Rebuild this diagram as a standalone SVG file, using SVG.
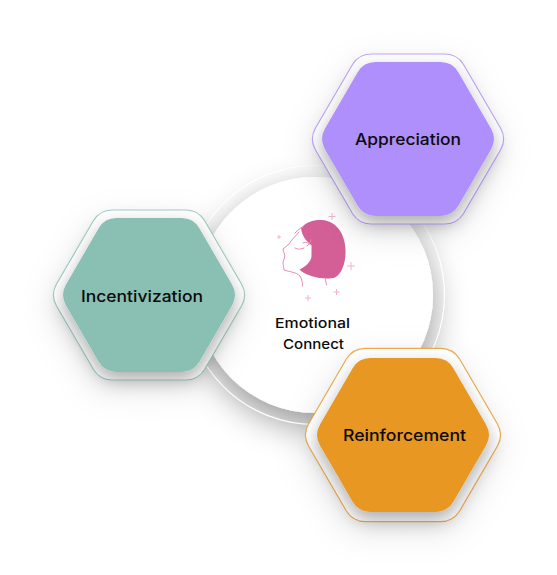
<svg xmlns="http://www.w3.org/2000/svg" width="557" height="575" viewBox="0 0 557 575">
<style>
text{font-family:"Inter","Liberation Sans",sans-serif;font-weight:500;fill:#0b0b0b;text-anchor:middle}
.lbl{font-size:16px}
.cap{font-size:13.5px}
.ring{fill:#fff;stroke-width:1.200;stroke-opacity:.8;filter:url(#softShadow)}
.core{filter:url(#coreShadow)}
.face{fill:none;stroke:#e58bb5;stroke-width:1;stroke-linecap:round}
.spark{fill:none;stroke:#f0b3cf;stroke-width:1}
</style>
<defs>
<path id="hexOuter" d="M-37-85H37A22 22 0 0 1 55.500-74.500L92.500-11A22 22 0 0 1 92.500 11L55.500 74.500A22 22 0 0 1 37 85H-37A22 22 0 0 1-55.500 74.500L-92.500 11A22 22 0 0 1-92.500-11L-55.500-74.500A22 22 0 0 1-37-85Z"/>
<path id="hexInner" d="M-32.500-77H32.500A20.800 20.800 0 0 1 50.500-66.600L83-10.400A20.800 20.800 0 0 1 83 10.400L50.500 66.600A20.800 20.800 0 0 1 32.500 77H-32.500A20.800 20.800 0 0 1-50.500 66.600L-83 10.400A20.800 20.800 0 0 1-83-10.400L-50.500-66.600A20.800 20.800 0 0 1-32.500-77Z"/>
<filter id="softShadow" x="-40%" y="-40%" width="180%" height="180%">
<feDropShadow dx="-2" dy="10" stdDeviation="16" flood-color="#000" flood-opacity=".1"/>
</filter>
<filter id="coreShadow" x="-30%" y="-30%" width="160%" height="160%">
<feDropShadow dx="0" dy="8" stdDeviation="9" flood-color="#000" flood-opacity=".32"/>
</filter>
<filter id="circleShadow" x="-40%" y="-40%" width="180%" height="180%">
<feDropShadow dx="0" dy="13" stdDeviation="17" flood-color="#000" flood-opacity=".4"/>
</filter>
</defs>
<g id="center-circle">
<circle cx="315" cy="295" r="118" fill="#fff" filter="url(#circleShadow)"/>
<circle cx="315" cy="295" r="129.500" fill="none" stroke="#fff" stroke-width="1.200"/>
<g id="face-icon">
<path d="M301 228C306 222 314 219.500 322 220C336 221 345 233 345.500 250C346 262 342 274 335 277.500C327 280 308 278 299.500 269.500C305 267 311 262 311.500 256.500L311.500 245C306 241 302 236 301 228Z" fill="#d35f96"/>
<path class="face" d="M299 232C295 237 291 240 289 244L283 249C283 252 285.500 254 284.500 258L283 262C283 266 284 268 284 270C290 272 296 272 300 276C302 279 302.500 283 302.500 286"/>
<path class="face" d="M295 233C298 230 300 228 303 227"/>
<path class="face" d="M295 248C298 250 301 249 304 248"/>
<path class="face" d="M303 243C307 241 309 244 311 245M307 246C310 244 311 241 311 240"/>
<path class="face" d="M325 278C326 281 326 283 326.500 285"/>
<path class="spark" d="M332 213V220M328.500 216.500H335.500M351 262V270M347 266H355M336.500 289V295M333.500 292H339.500M308 295V301M305 298H311"/>
<path class="spark" d="M277 237H281M279 235V239"/>
</g>
<text class="cap" x="312.500" y="328" textLength="75" lengthAdjust="spacingAndGlyphs">Emotional</text>
<text class="cap" x="313.500" y="349" textLength="61" lengthAdjust="spacingAndGlyphs">Connect</text>
</g>
<g id="incentivization" transform="translate(149 295)">
<use href="#hexOuter" class="ring" stroke="#8abfb3"/>
<use href="#hexInner" class="core" fill="#8abfb3"/>
<text class="lbl" x="-7" y="6.500" textLength="122" lengthAdjust="spacingAndGlyphs">Incentivization</text>
</g>
<g id="appreciation" transform="translate(408 139)">
<use href="#hexOuter" class="ring" stroke="#af8ffb"/>
<use href="#hexInner" class="core" fill="#af8ffb"/>
<text class="lbl" x="0" y="6" textLength="106" lengthAdjust="spacingAndGlyphs">Appreciation</text>
</g>
<g id="reinforcement" transform="translate(403 435)">
<use href="#hexOuter" class="ring" stroke="#e79723" transform="scale(1.020)"/>
<use href="#hexInner" class="core" fill="#e79723"/>
<text class="lbl" x="1.500" y="5.500" textLength="123" lengthAdjust="spacingAndGlyphs">Reinforcement</text>
</g>
<g id="connectors"/>
</svg>
